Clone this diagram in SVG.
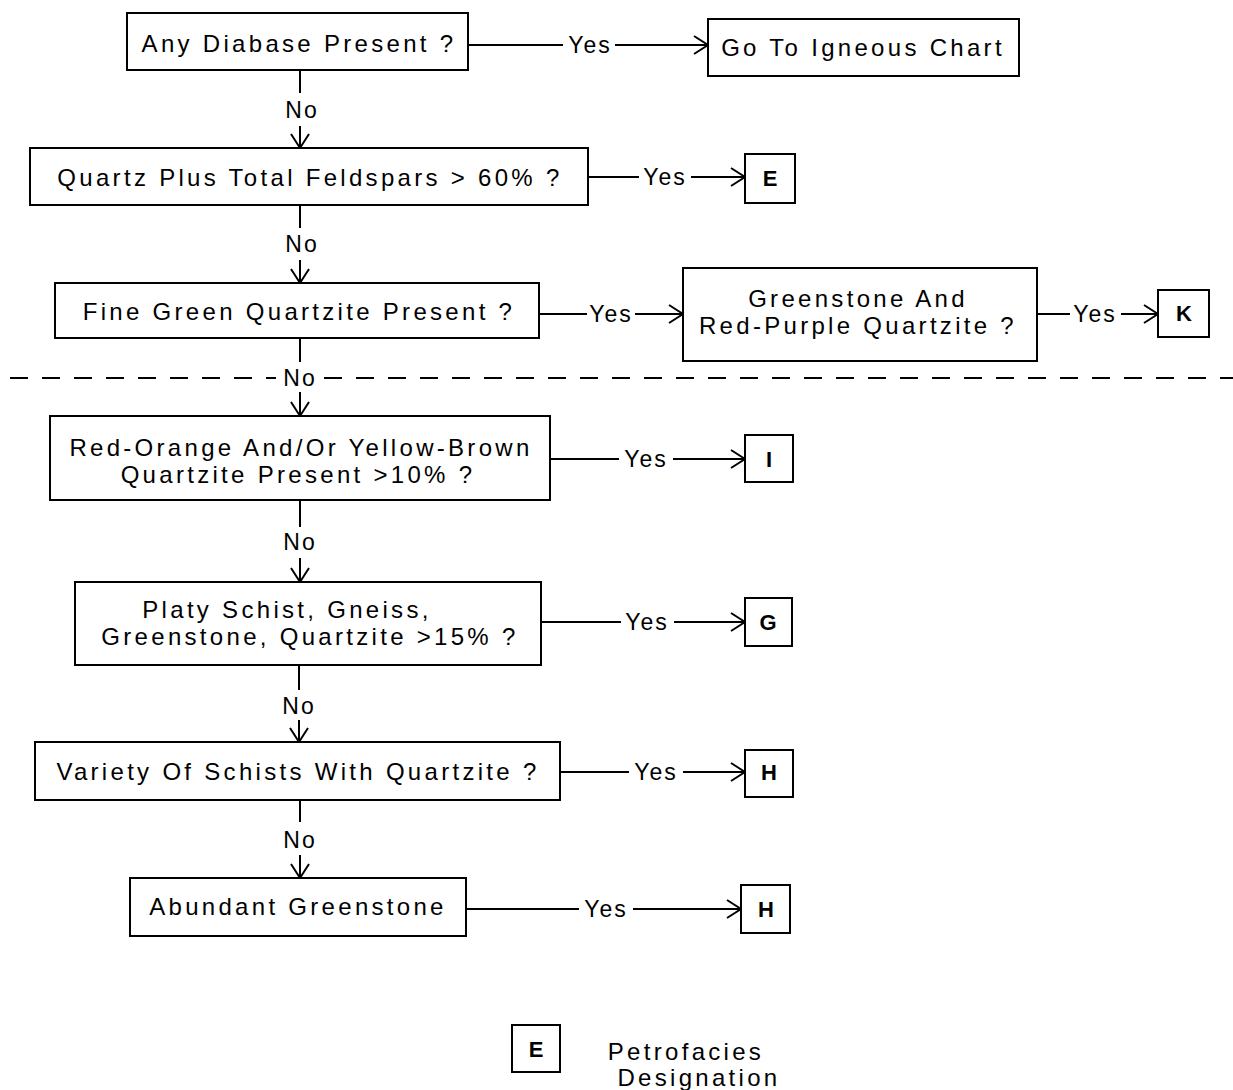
<svg xmlns="http://www.w3.org/2000/svg" width="1233" height="1090" viewBox="0 0 1233 1090">
<style>
.bx{fill:#fff;stroke:#000;stroke-width:2}
.t{font-family:"Liberation Sans",Arial,sans-serif;font-size:24px;letter-spacing:3.3px;text-anchor:middle;fill:#000}
.l{font-family:"Liberation Sans",Arial,sans-serif;font-size:23px;letter-spacing:2px;text-anchor:middle;fill:#000}
.d{font-family:"Liberation Sans",Arial,sans-serif;font-size:22px;font-weight:bold;text-anchor:middle;fill:#000}
.c{fill:none;stroke:#000;stroke-width:2}
</style>
<defs>
<marker id="ah" markerUnits="userSpaceOnUse" markerWidth="20" markerHeight="24" refX="15" refY="10" orient="auto" viewBox="0 0 20 20">
<path d="M1,1 L15,10 L1,19" fill="none" stroke="#000" stroke-width="2"/>
</marker>
</defs>
<rect width="1233" height="1090" fill="#fff"/>

<g id="connectors">
<line class="c" x1="468" y1="45" x2="563" y2="45"/>
<text class="l" x="590" y="53">Yes</text>
<line class="c" x1="615" y1="45" x2="708" y2="45" marker-end="url(#ah)"/>
<line class="c" x1="300" y1="70" x2="300" y2="93"/>
<text class="l" x="302" y="118">No</text>
<line class="c" x1="300" y1="126" x2="300" y2="148" marker-end="url(#ah)"/>

<line class="c" x1="588" y1="177" x2="639" y2="177"/>
<text class="l" x="665" y="185">Yes</text>
<line class="c" x1="691" y1="177" x2="745" y2="177" marker-end="url(#ah)"/>
<line class="c" x1="300" y1="205" x2="300" y2="228"/>
<text class="l" x="302" y="252">No</text>
<line class="c" x1="300" y1="260" x2="300" y2="283" marker-end="url(#ah)"/>

<line class="c" x1="539" y1="314" x2="587" y2="314"/>
<text class="l" x="611" y="322">Yes</text>
<line class="c" x1="635" y1="314" x2="683" y2="314" marker-end="url(#ah)"/>
<line class="c" x1="1037" y1="314" x2="1070" y2="314"/>
<text class="l" x="1095" y="322">Yes</text>
<line class="c" x1="1121" y1="314" x2="1158" y2="314" marker-end="url(#ah)"/>

<line class="c" x1="300" y1="338" x2="300" y2="362"/>
<text class="l" x="300" y="386">No</text>
<line class="c" x1="300" y1="392" x2="300" y2="416" marker-end="url(#ah)"/>
<line x1="10" y1="378" x2="276" y2="378" stroke="#000" stroke-width="2" stroke-dasharray="18 14"/>
<line x1="324" y1="378" x2="1233" y2="378" stroke="#000" stroke-width="2" stroke-dasharray="18 14"/>

<line class="c" x1="550" y1="459" x2="619" y2="459"/>
<text class="l" x="646" y="467">Yes</text>
<line class="c" x1="673" y1="459" x2="745" y2="459" marker-end="url(#ah)"/>
<line class="c" x1="300" y1="500" x2="300" y2="527"/>
<text class="l" x="300" y="550">No</text>
<line class="c" x1="300" y1="558" x2="300" y2="582" marker-end="url(#ah)"/>

<line class="c" x1="541" y1="622" x2="621" y2="622"/>
<text class="l" x="647" y="630">Yes</text>
<line class="c" x1="674" y1="622" x2="745" y2="622" marker-end="url(#ah)"/>
<line class="c" x1="299" y1="665" x2="299" y2="690"/>
<text class="l" x="299" y="714">No</text>
<line class="c" x1="299" y1="720" x2="299" y2="742" marker-end="url(#ah)"/>

<line class="c" x1="560" y1="772" x2="629" y2="772"/>
<text class="l" x="656" y="780">Yes</text>
<line class="c" x1="683" y1="772" x2="745" y2="772" marker-end="url(#ah)"/>
<line class="c" x1="300" y1="800" x2="300" y2="822"/>
<text class="l" x="300" y="848">No</text>
<line class="c" x1="300" y1="855" x2="300" y2="878" marker-end="url(#ah)"/>

<line class="c" x1="466" y1="909" x2="579" y2="909"/>
<text class="l" x="606" y="917">Yes</text>
<line class="c" x1="633" y1="909" x2="741" y2="909" marker-end="url(#ah)"/>
</g>

<g id="n1"><rect class="bx" x="127" y="13" width="341" height="57"/><text class="t" x="299" y="52">Any Diabase Present ?</text></g>
<g id="n_igneous"><rect class="bx" x="708" y="19" width="311" height="57"/><text class="t" x="863" y="56">Go To Igneous Chart</text></g>
<g id="n2"><rect class="bx" x="30" y="148" width="558" height="57"/><text class="t" x="310" y="186">Quartz Plus Total Feldspars &gt; 60% ?</text></g>
<g id="pE"><rect class="bx" x="745" y="154" width="50" height="49"/><text class="d" x="770" y="186">E</text></g>
<g id="n3"><rect class="bx" x="55" y="283" width="484" height="55"/><text class="t" x="299" y="320">Fine Green Quartzite Present ?</text></g>
<g id="n_greenstone"><rect class="bx" x="683" y="268" width="354" height="93"/><text class="t" x="858" y="307">Greenstone And</text><text class="t" x="858" y="334">Red-Purple Quartzite ?</text></g>
<g id="pK"><rect class="bx" x="1158" y="290" width="51" height="47"/><text class="d" x="1184" y="321">K</text></g>
<g id="n4"><rect class="bx" x="50" y="416" width="500" height="84"/><text class="t" x="301" y="456">Red-Orange And/Or Yellow-Brown</text><text class="t" x="298" y="483">Quartzite Present &gt;10% ?</text></g>
<g id="pI"><rect class="bx" x="745" y="435" width="48" height="47"/><text class="d" x="769" y="467">I</text></g>
<g id="n5"><rect class="bx" x="75" y="582" width="466" height="83"/><text class="t" x="287" y="618">Platy Schist, Gneiss,</text><text class="t" x="310" y="645">Greenstone, Quartzite &gt;15% ?</text></g>
<g id="pG"><rect class="bx" x="745" y="598" width="47" height="48"/><text class="d" x="768" y="630">G</text></g>
<g id="n6"><rect class="bx" x="35" y="742" width="525" height="58"/><text class="t" x="298" y="780">Variety Of Schists With Quartzite ?</text></g>
<g id="pH1"><rect class="bx" x="745" y="750" width="48" height="47"/><text class="d" x="769" y="780">H</text></g>
<g id="n7"><rect class="bx" x="130" y="878" width="336" height="58"/><text class="t" x="298" y="915">Abundant Greenstone</text></g>
<g id="pH2"><rect class="bx" x="741" y="885" width="49" height="48"/><text class="d" x="766" y="917">H</text></g>

<g id="legend"><rect class="bx" x="512" y="1025" width="48" height="47"/><text class="d" x="536" y="1057">E</text>
<text class="t" x="686" y="1060">Petrofacies</text><text class="t" x="699" y="1086">Designation</text></g>
</svg>
